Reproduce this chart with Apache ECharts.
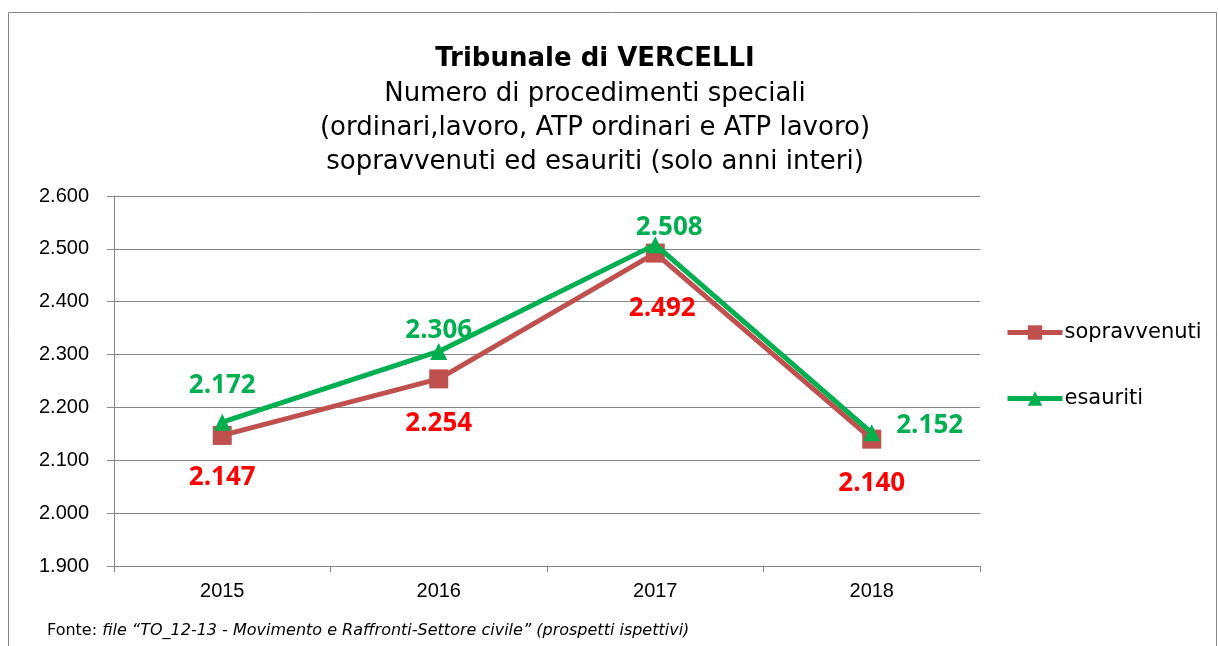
<!DOCTYPE html>
<html>
<head>
<meta charset="utf-8">
<script src="https://cdn.jsdelivr.net/npm/echarts@6/dist/echarts.min.js"></script>
<style>
  html, body { margin: 0; padding: 0; background: #fff; }
  #chart { width: 1218px; height: 646px; }
</style>
</head>
<body>
<div id="chart"></div>
<script>
// dati
var anni = ['2015', '2016', '2017', '2018'];
var sopravvenuti = [2147, 2254, 2492, 2140];
var esauriti = [2172, 2306, 2508, 2152];
var yTicks = [1900, 2000, 2100, 2200, 2300, 2400, 2500, 2600];

// posizione delle etichette per ogni punto
var posSopr = [
  { position: 'bottom', offset: [0, 15] },
  { position: 'bottom', offset: [0, 17] },
  { position: 'bottom', offset: [7, 28] },
  { position: 'bottom', offset: [0, 17] }
];
var posEsau = [
  { position: 'top', offset: [0, -10] },
  { position: 'top', offset: [0, 6] },
  { position: 'top', offset: [14, 9] },
  { position: 'right', offset: [11, -7] }
];

function formatNum(v) {
  return (v / 1000).toFixed(3);
}

function buildData(values, pos) {
  var out = [];
  for (var i = 0; i < values.length; i++) {
    out.push({ value: values[i], label: pos[i] });
  }
  return out;
}

var chart = echarts.init(document.getElementById('chart'), null, { renderer: 'canvas' });

var option = {
  backgroundColor: '#fff',
  animation: false,
  title: [{
    text: 'Tribunale di VERCELLI',
    left: 590,
    top: 41,
    textAlign: 'center',
    textStyle: { fontFamily: 'DejaVu Sans', fontWeight: 'bold', fontSize: 26, color: '#000' }
  }, {
    text: 'Numero di procedimenti speciali\n(ordinari,lavoro, ATP ordinari e ATP lavoro)\nsopravvenuti ed esauriti (solo anni interi)',
    left: 590,
    top: 72,
    textAlign: 'center',
    textStyle: { fontFamily: 'DejaVu Sans', fontWeight: 'normal', fontSize: 26, lineHeight: 34, color: '#000' }
  }],
  legend: {
    orient: 'vertical',
    left: 1005,
    top: 322,
    padding: 0,
    itemWidth: 55,
    itemHeight: 18,
    itemGap: 45,
    lineStyle: { width: 5 },
    textStyle: { fontFamily: 'DejaVu Sans', fontSize: 21, color: '#000', padding: [0, 0, 0, -3] },
    data: ['sopravvenuti', 'esauriti']
  },
  grid: { left: 114, right: 238, top: 196, bottom: 80 },
  xAxis: {
    type: 'category',
    data: anni,
    boundaryGap: true,
    axisLine: { lineStyle: { color: '#868686', width: 1 } },
    axisTick: { show: true, length: 6, lineStyle: { color: '#868686' } },
    axisLabel: { fontFamily: 'Liberation Sans', fontSize: 20, color: '#000', margin: 15 }
  },
  yAxis: {
    type: 'value',
    min: yTicks[0],
    max: yTicks[yTicks.length - 1],
    interval: 100,
    axisLine: { show: true, lineStyle: { color: '#868686', width: 1 } },
    axisTick: { show: true, length: 7, lineStyle: { color: '#868686' } },
    splitLine: { lineStyle: { color: '#868686', width: 1 } },
    axisLabel: {
      fontFamily: 'Liberation Sans', fontSize: 20, color: '#000', margin: 25,
      formatter: formatNum
    }
  },
  series: [{
    name: 'sopravvenuti',
    type: 'line',
    data: buildData(sopravvenuti, posSopr),
    symbol: 'rect',
    symbolSize: 19,
    itemStyle: { color: '#C0504D' },
    lineStyle: { color: '#C0504D', width: 5 },
    label: {
      show: true,
      fontFamily: 'Open Sans',
      fontWeight: 'bold',
      fontSize: 26,
      color: '#FF0000',
      formatter: function (p) { return formatNum(p.value); }
    },
    z: 2
  }, {
    name: 'esauriti',
    type: 'line',
    data: buildData(esauriti, posEsau),
    symbol: 'triangle',
    symbolSize: 17,
    itemStyle: { color: '#00B050' },
    lineStyle: { color: '#00B050', width: 5 },
    label: {
      show: true,
      fontFamily: 'Open Sans',
      fontWeight: 'bold',
      fontSize: 26,
      color: '#00B050',
      formatter: function (p) { return formatNum(p.value); }
    },
    z: 3
  }],
  graphic: [{
    type: 'rect',
    shape: { x: 8.5, y: 12.5, width: 1208, height: 660 },
    style: { fill: null, stroke: '#868686', lineWidth: 1 },
    silent: true,
    z: -1
  }, {
    type: 'text',
    left: 47,
    top: 623,
    style: {
      text: '{n|Fonte: }{i|file \u201cTO_12-13 - Movimento e Raffronti-Settore civile\u201d (prospetti ispettivi)}',
      rich: {
        n: { fontFamily: 'DejaVu Sans', fontSize: 16, fill: '#000' },
        i: { fontFamily: 'DejaVu Sans', fontStyle: 'italic', fontSize: 16, fill: '#000' }
      }
    }
  }]
};

chart.setOption(option);
window.addEventListener('resize', function () {
  chart.resize();
});
</script>
</body>
</html>
